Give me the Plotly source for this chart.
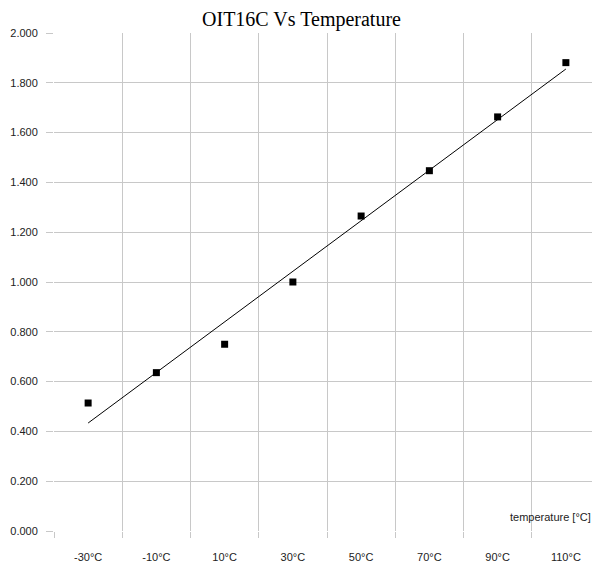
import numpy as np
import plotly.graph_objects as go

categories = ["-30°C", "-10°C", "10°C", "30°C", "50°C", "70°C", "90°C", "110°C"]
oit_values = [0.514, 0.636, 0.750, 1.000, 1.265, 1.447, 1.663, 1.881]
y_ticks = [0.0, 0.2, 0.4, 0.6, 0.8, 1.0, 1.2, 1.4, 1.6, 1.8, 2.0]
y_tick_labels = ["0.000", "0.200", "0.400", "0.600", "0.800", "1.000",
                 "1.200", "1.400", "1.600", "1.800", "2.000"]

# linear trend line (least squares on category index)
idx = np.arange(len(categories))
slope, intercept = np.polyfit(idx, oit_values, 1)
trend = [intercept + slope * i for i in idx]

fig = go.Figure()
fig.add_trace(go.Scatter(
    x=[categories[0], categories[-1]], y=[trend[0], trend[-1]],
    mode="lines", line=dict(color="black", width=1), hoverinfo="skip",
    showlegend=False))
fig.add_trace(go.Scatter(
    x=categories, y=oit_values, mode="markers",
    marker=dict(symbol="square", size=7, color="black"),
    showlegend=False))

grid = "#c8c8c8"
W, H = 592, 562  # page body has an 8px default margin
fig.update_layout(
    width=W, height=H,
    margin=dict(l=46, r=0, t=25, b=39),
    paper_bgcolor="white", plot_bgcolor="white",
    title=dict(text="OIT16C Vs Temperature", x=293.5 / W, xanchor="center",
               y=1 - 11 / H, yanchor="middle", yref="container",
               font=dict(family="Liberation Serif", size=20, color="black")),
    font=dict(family="Liberation Sans", size=11, color="#222"),
    xaxis=dict(type="category", categoryorder="array", categoryarray=categories,
               range=[-0.5, 7.5], tickson="boundaries", ticks="outside",
               ticklen=6, tickcolor=grid, showgrid=True, gridcolor=grid,
               gridwidth=1, showline=False, zeroline=False,
               ticklabelstandoff=18),
    yaxis=dict(range=[0, 2.0], tickvals=y_ticks, ticktext=y_tick_labels,
               ticks="outside", ticklen=7, tickcolor=grid, showgrid=True,
               gridcolor=grid, gridwidth=1, zeroline=False, showline=False,
               ticklabelstandoff=6),
    annotations=[dict(text="temperature [°C]", xref="paper", yref="paper",
                      x=0.988, y=0.028, xanchor="right", yanchor="middle",
                      showarrow=False,
                      font=dict(family="Liberation Sans", size=11, color="#222"))],
)

fig.write_html("out.html")
